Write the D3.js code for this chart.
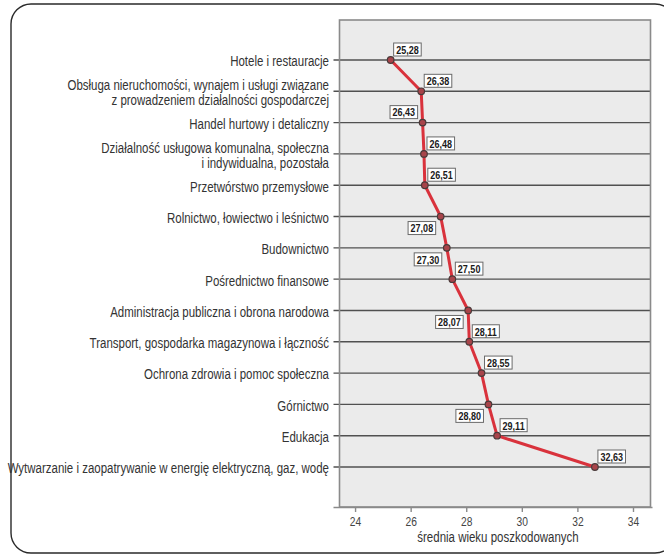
<!DOCTYPE html>
<html>
<head>
<meta charset="utf-8">
<script src="https://cdn.jsdelivr.net/npm/d3@7/dist/d3.min.js"></script>
<style>
  html, body { margin: 0; padding: 0; background: #fff; }
  svg { display: block; }
  text { font-family: "Liberation Sans Narrow", "Arial Narrow", "Liberation Sans", Arial, sans-serif; }
</style>
</head>
<body>
<svg id="chart" width="664" height="555"></svg>
<script>
// Branże (kolejność od najmłodszych poszkodowanych)
const categories = [
  ["Hotele i restauracje"],
  ["Obsługa nieruchomości, wynajem i usługi związane", "z prowadzeniem działalności gospodarczej"],
  ["Handel hurtowy i detaliczny"],
  ["Działalność usługowa komunalna, społeczna", "i indywidualna, pozostała"],
  ["Przetwórstwo przemysłowe"],
  ["Rolnictwo, łowiectwo i leśnictwo"],
  ["Budownictwo"],
  ["Pośrednictwo finansowe"],
  ["Administracja publiczna i obrona narodowa"],
  ["Transport, gospodarka magazynowa i łączność"],
  ["Ochrona zdrowia i pomoc społeczna"],
  ["Górnictwo"],
  ["Edukacja"],
  ["Wytwarzanie i zaopatrywanie w energię elektryczną, gaz, wodę"]
];

// Średni wiek poszkodowanych
const meanAge = [25.28, 26.38, 26.43, 26.48, 26.51, 27.08, 27.30, 27.50,
                 28.07, 28.11, 28.55, 28.80, 29.11, 32.63];

const xTicks = [24, 26, 28, 30, 32, 34];
const axisTitle = "średnia wieku poszkodowanych";

// Strona, po której stoi etykieta wartości: ra = prawo-góra, la = lewo-góra, lb = lewo-dół
const labelSide = ["ra", "ra", "la", "ra", "ra", "lb", "lb", "ra", "lb", "ra", "ra", "lb", "ra", "ra"];

const svg = d3.select("#chart");

// Zwężenie kroju (wąski font nie zawsze jest dostępny)
const condensed = 0.82;

// Zaokrąglona ramka całej ilustracji
svg.append("rect")
  .attr("x", 11).attr("y", 4)
  .attr("width", 664).attr("height", 549)
  .attr("rx", 20).attr("ry", 20)
  .attr("fill", "#fff")
  .attr("stroke", "#2a2a2a")
  .attr("stroke-width", 1.4);

const plot = { left: 339.5, right: 650.5, top: 20, bottom: 507 };

const x = d3.scaleLinear().domain([23.44, 34.63]).range([plot.left, plot.right]);
const keys = categories.map((c, i) => i);
const y = d3.scalePoint().domain(keys).range([60, 467]);

// Tło obszaru wykresu
svg.append("rect")
  .attr("x", plot.left).attr("y", plot.top)
  .attr("width", plot.right - plot.left).attr("height", plot.bottom - plot.top)
  .attr("fill", "#ebebeb");

// Linie siatki dla każdej kategorii (z krótkim znacznikiem po lewej)
svg.append("g")
  .selectAll("line")
  .data(keys)
  .join("line")
  .attr("x1", plot.left - 6).attr("x2", plot.right)
  .attr("y1", d => y(d)).attr("y2", d => y(d))
  .attr("stroke", "#505050")
  .attr("stroke-width", 1.4);

// Ramka obszaru wykresu
svg.append("rect")
  .attr("x", plot.left).attr("y", plot.top)
  .attr("width", plot.right - plot.left).attr("height", plot.bottom - plot.top)
  .attr("fill", "none")
  .attr("stroke", "#8a8a8a")
  .attr("stroke-width", 1.6);

// Oś X
const xAxis = d3.axisBottom(x)
  .tickValues(xTicks)
  .tickSize(5)
  .tickPadding(5)
  .tickFormat(d3.format("d"));

const gx = svg.append("g")
  .attr("transform", `translate(0,${plot.bottom})`)
  .call(xAxis);
gx.select(".domain").attr("stroke", "#8a8a8a").attr("stroke-width", 1.6)
  .attr("d", `M${plot.left - 6},0.5H${plot.right + 2}`);
gx.selectAll(".tick line").attr("stroke", "#8a8a8a").attr("stroke-width", 1.4);
gx.selectAll(".tick text")
  .attr("fill", "#444")
  .attr("transform", `scale(${condensed},1)`)
  .style("font-size", "12.5px");

svg.append("text")
  .attr("transform", `translate(${(plot.left + plot.right) / 2 + 3},542) scale(${condensed},1)`)
  .attr("text-anchor", "middle")
  .attr("fill", "#333")
  .style("font-size", "14px")
  .text(axisTitle);

// Etykiety kategorii (oś Y)
const lineGap = 15.5;
const catLabels = svg.append("g")
  .selectAll("text")
  .data(categories)
  .join("text")
  .attr("text-anchor", "end")
  .attr("fill", "#333")
  .style("font-size", "14px")
  .attr("transform", (d, i) => `translate(329,${y(i)}) scale(${condensed},1)`);

catLabels.selectAll("tspan")
  .data(d => d.map((t, j) => ({ t, j, n: d.length })))
  .join("tspan")
  .attr("x", 0)
  .attr("y", d => (d.j - (d.n - 1) / 2) * lineGap + 1.5)
  .attr("dy", "0.35em")
  .text(d => d.t);

// Linia średnich
svg.append("path")
  .datum(meanAge)
  .attr("fill", "none")
  .attr("stroke", "#d9323c")
  .attr("stroke-width", 3)
  .attr("stroke-linejoin", "round")
  .attr("d", d3.line().x(d => x(d)).y((d, i) => y(i)));

// Punkty
svg.append("g")
  .selectAll("circle")
  .data(meanAge)
  .join("circle")
  .attr("cx", d => x(d))
  .attr("cy", (d, i) => y(i))
  .attr("r", 3.3)
  .attr("fill", "#a8444a")
  .attr("stroke", "#4a3a3a")
  .attr("stroke-width", 1.2);

// Etykiety wartości w ramkach
const fmt = v => d3.format(".2f")(v).replace(".", ",");
const boxH = 13;
const lab = svg.append("g")
  .selectAll("g")
  .data(meanAge)
  .join("g");

lab.each(function (v, i) {
  const g = d3.select(this);
  const t = g.append("text")
    .attr("fill", "#1a1a1a")
    .style("font-size", "11px")
    .style("font-weight", "bold")
    .attr("text-anchor", "middle")
    .attr("dy", "0.35em")
    .text(fmt(v));
  const w = t.node().getComputedTextLength() * condensed + 5;
  const px = x(v), py = y(i);
  const side = labelSide[i];
  let bx, by;
  if (side === "ra") { bx = px + 3; by = py - 4 - boxH; }
  else if (side === "la") { bx = px - 5 - w; by = py - 4 - boxH; }
  else { bx = px - 5 - w; by = py + 5; }
  g.insert("rect", "text")
    .attr("x", bx).attr("y", by)
    .attr("width", w).attr("height", boxH)
    .attr("fill", "#fff")
    .attr("stroke", "#6a6a6a")
    .attr("stroke-width", 1);
  t.attr("transform", `translate(${bx + w / 2},${by + boxH / 2 + 0.5}) scale(${condensed},1)`);
});
</script>
</body>
</html>
